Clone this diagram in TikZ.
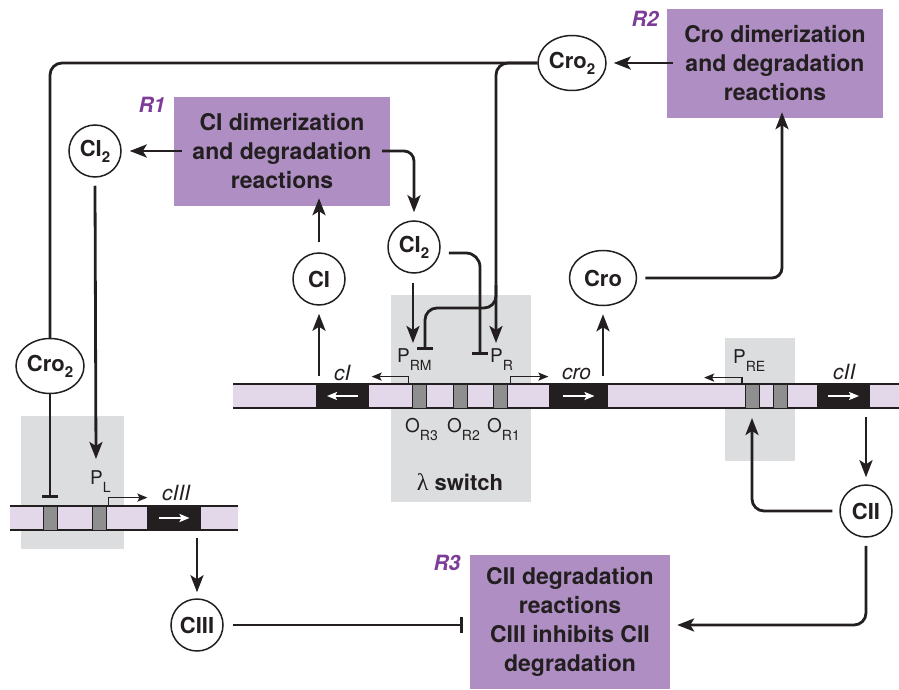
\documentclass[tikz,border=0pt]{standalone}
\usepackage{fontspec}
\setmainfont{TeX Gyre Heros}
\newfontfamily\lamfont{Liberation Serif}
\usetikzlibrary{arrows.meta,shapes.geometric}
\definecolor{boxpurple}{RGB}{175,143,195}
\definecolor{rpurple}{RGB}{125,60,152}
\definecolor{strandcol}{RGB}{226,216,234}
\definecolor{shadecol}{RGB}{220,221,222}
\definecolor{opgray}{RGB}{143,143,143}
\definecolor{ink}{RGB}{35,31,32}
\newcommand{\nsub}[1]{\raisebox{-6pt}{\fontsize{15}{15}\selectfont #1}}
\newcommand{\psub}[1]{\raisebox{-8pt}{\fontsize{14}{14}\selectfont #1}}
\tikzset{
  ln/.style={line width=2.8pt, draw=ink},
  arr/.style={ln, -{Stealth[length=17pt,width=13pt,inset=4pt]}},
  inh/.style={ln, -{Bar[width=16pt]}},
  parr/.style={line width=1.6pt, draw=ink, -{Stealth[length=10pt,width=8pt,inset=2pt]}},
  warr/.style={line width=2.2pt, draw=white, -{Stealth[length=10pt,width=8pt,inset=2pt]}},
  rbox/.style={rectangle, fill=boxpurple, align=center, inner sep=0, text=ink,
    font=\fontsize{23}{29}\selectfont\bfseries},
  mol/.style={ellipse, draw=ink, line width=1.5pt, fill=white, inner sep=0, text=ink,
    font=\fontsize{22}{22}\selectfont\bfseries},
  gene/.style={rectangle, fill=ink, inner sep=0, minimum height=24pt},
  op/.style={rectangle, fill=opgray, draw=ink, line width=0.8pt, inner sep=0,
    minimum width=14pt, minimum height=24pt},
  lab/.style={inner sep=0, anchor=base west, text=ink, font=\fontsize{19}{19}\selectfont},
  glab/.style={inner sep=0, anchor=base west, text=ink, font=\fontsize{21}{21}\selectfont\itshape},
  rlab/.style={inner sep=0, text=rpurple, font=\fontsize{21}{21}\selectfont\bfseries\itshape},
  strandline/.style={line width=1.3pt, draw=ink},
}
\begin{document}
\begin{tikzpicture}[x=1pt,y=-1pt]
\useasboundingbox (0,0) rectangle (899,690);
% shaded regions
\fill[shadecol] (391,295) rectangle (531,502);
\fill[shadecol] (725,338) rectangle (795,461);
\fill[shadecol] (21,416) rectangle (124,549);
% strands
\fill[strandcol] (233,384) rectangle (899,408);
\draw[strandline] (233,384) -- (899,384) (233,408) -- (899,408);
\fill[strandcol] (10,506) rectangle (238,530);
\draw[strandline] (10,506) -- (238,506) (10,530) -- (238,530);
% genes
\node[gene, minimum width=53pt] (cIg) at (342.5,396) {};
\node[gene, minimum width=59pt] (crog) at (578.5,396) {};
\node[gene, minimum width=53pt] (cIIg) at (843.5,396) {};
\node[gene, minimum width=54pt] (cIIIg) at (174,518) {};
\draw[warr] ([xshift=15.5pt]cIg.center) -- ([xshift=-15.5pt]cIg.center);
\draw[warr] ([xshift=-16pt]crog.center) -- ([xshift=16pt]crog.center);
\draw[warr] ([xshift=-15.5pt]cIIg.center) -- ([xshift=15.5pt]cIIg.center);
\draw[warr] ([xshift=-15.5pt]cIIIg.center) -- ([xshift=15.5pt]cIIIg.center);
% operators
\node[op] (or3) at (419,396) {};
\node[op] (or2) at (460,396) {};
\node[op] (or1) at (500,396) {};
\node[op] (ope1) at (752.5,396) {};
\node[op] (ope2) at (780,396) {};
\node[op] (opl1) at (50,518) {};
\node[op] (opl2) at (99,518) {};
% promoter arrows
\draw[parr] ([xshift=-3pt]or3.north west) |- ++(-37,-7);
\draw[parr] ([xshift=3pt]or1.north east) |- ++(38,-7);
\draw[parr] ([xshift=-3pt]ope1.north west) |- ++(-38,-6);
\draw[parr] ([xshift=2pt]opl2.north east) |- ++(39,-8);
% labels on DNA
\node[lab] (lprm) at (397,362) {P\psub{RM}};
\node[lab] (lpr) at (490,362) {P\psub{R}};
\node[lab] (lpre) at (733,363) {P\psub{RE}};
\node[lab] (lpl) at (90,484) {P\psub{L}};
\node[lab] (lor3) at (405,432) {O\psub{R3}};
\node[lab] (lor2) at (447,432) {O\psub{R2}};
\node[lab] (lor1) at (487,432) {O\psub{R1}};
\node[glab] (lci) at (334,380) {cI};
\node[glab] (lcro) at (562,379) {cro};
\node[glab] (lcii) at (833,379) {cII};
\node[glab] (lciii) at (162,500) {cIII};
\node[inner sep=0, text=ink, font=\fontsize{22}{22}\selectfont\bfseries] (lsw) at (460,482) {{\lamfont\mdseries\fontsize{24}{24}\selectfont λ} switch};
% purple boxes
\node[rbox, minimum width=216pt, minimum height=109pt] (R1) at (282,151.5) {CI dimerization\\and degradation\\reactions};
\node[rbox, minimum width=216pt, minimum height=109pt] (R2) at (775,63.5) {Cro dimerization\\and degradation\\reactions};
\node[rbox, minimum width=200pt, minimum height=134pt] (R3) at (570,622) {CII degradation\\reactions\\CIII inhibits CII\\degradation};
\node[rlab] (r1l) at (152,105) {R1};
\node[rlab] (r2l) at (645,19) {R2};
\node[rlab] (r3l) at (447,563) {R3};
% molecules
\node[mol, minimum width=52pt, minimum height=52pt] (CIa) at (95,151) {CI\nsub{2}};
\node[mol, minimum width=52pt, minimum height=52pt] (CIb) at (414,247) {CI\nsub{2}};
\node[mol, minimum width=52pt, minimum height=52pt] (CI) at (319,279) {CI};
\node[mol, minimum width=68pt, minimum height=55pt] (CroT) at (572,63) {Cro\nsub{2}};
\node[mol, minimum width=67pt, minimum height=55pt] (Cro) at (603,278) {Cro};
\node[mol, minimum width=68pt, minimum height=55pt] (CroL) at (50,366) {Cro\nsub{2}};
\node[mol, minimum width=52pt, minimum height=52pt] (CIII) at (197,625) {CIII};
\node[mol, minimum width=52pt, minimum height=52pt] (CII) at (866,511) {CII};
% target coordinates
\coordinate (prmtip) at (413,343);
\coordinate (prmT) at (425,350);
\coordinate (prT) at (480,355);
\coordinate (prtip) at (496,343);
\coordinate (pltip) at (96,459);
\coordinate (olT) at (50,498);
\coordinate (pretip) at (752,418);
% connectors
\draw[arr] ([xshift=8pt]R1.west |- CIa.east) -- ([xshift=8pt]CIa.east);
\draw[arr, rounded corners=10pt] ([xshift=-8pt]R1.east |- CIa.east) -| ([yshift=8pt]CIb.north);
\draw[arr] ([yshift=10pt]CI.north) -- ([yshift=8pt]CI.north |- R1.south);
\draw[arr] ([yshift=8pt]CI.south |- cIg.north) -- ([yshift=-8pt]CI.south);
\draw[arr] ([yshift=-8pt]CIa.south) -- (pltip);
\draw[ln, rounded corners=12pt] (CroT.west) -| (CroL.north);
\draw[inh] (CroL.south) -- (olT);
\draw[arr, rounded corners=12pt] (CroT.west) -| (prtip);
\draw[inh, rounded corners=12pt] (496,285) |- (prmT |- 0,308) -- (prmT);
\draw[arr] ([yshift=-9pt]CIb.south -| prmtip) -- (prmtip);
\draw[inh, rounded corners=14pt] ([xshift=8pt,yshift=-6pt]CIb.east) -| (prT);
\draw[arr] ([yshift=8pt]Cro.south |- crog.north) -- ([yshift=-8pt]Cro.south);
\draw[arr, rounded corners=10pt] ([xshift=8pt]Cro.east) -| ([xshift=7pt,yshift=6pt]R2.south);
\draw[arr] ([xshift=6pt]R2.west |- CroT.east) -- ([xshift=7pt]CroT.east);
\draw[arr] ([yshift=-9pt]CII.north |- cIIg.south) -- ([yshift=7pt]CII.north);
\draw[arr, rounded corners=12pt] ([xshift=-7pt]CII.west) -| (pretip);
\draw[arr, rounded corners=12pt] ([yshift=-8pt]CII.south) |- ([xshift=7pt,yshift=-3pt]R3.east);
\draw[arr] ([yshift=-8pt]CIII.north |- cIIIg.south) -- ([yshift=6pt]CIII.north);
\draw[inh] ([xshift=9pt]CIII.east) -- ([xshift=-7pt]R3.west |- CIII.east);
\end{tikzpicture}
\end{document}
